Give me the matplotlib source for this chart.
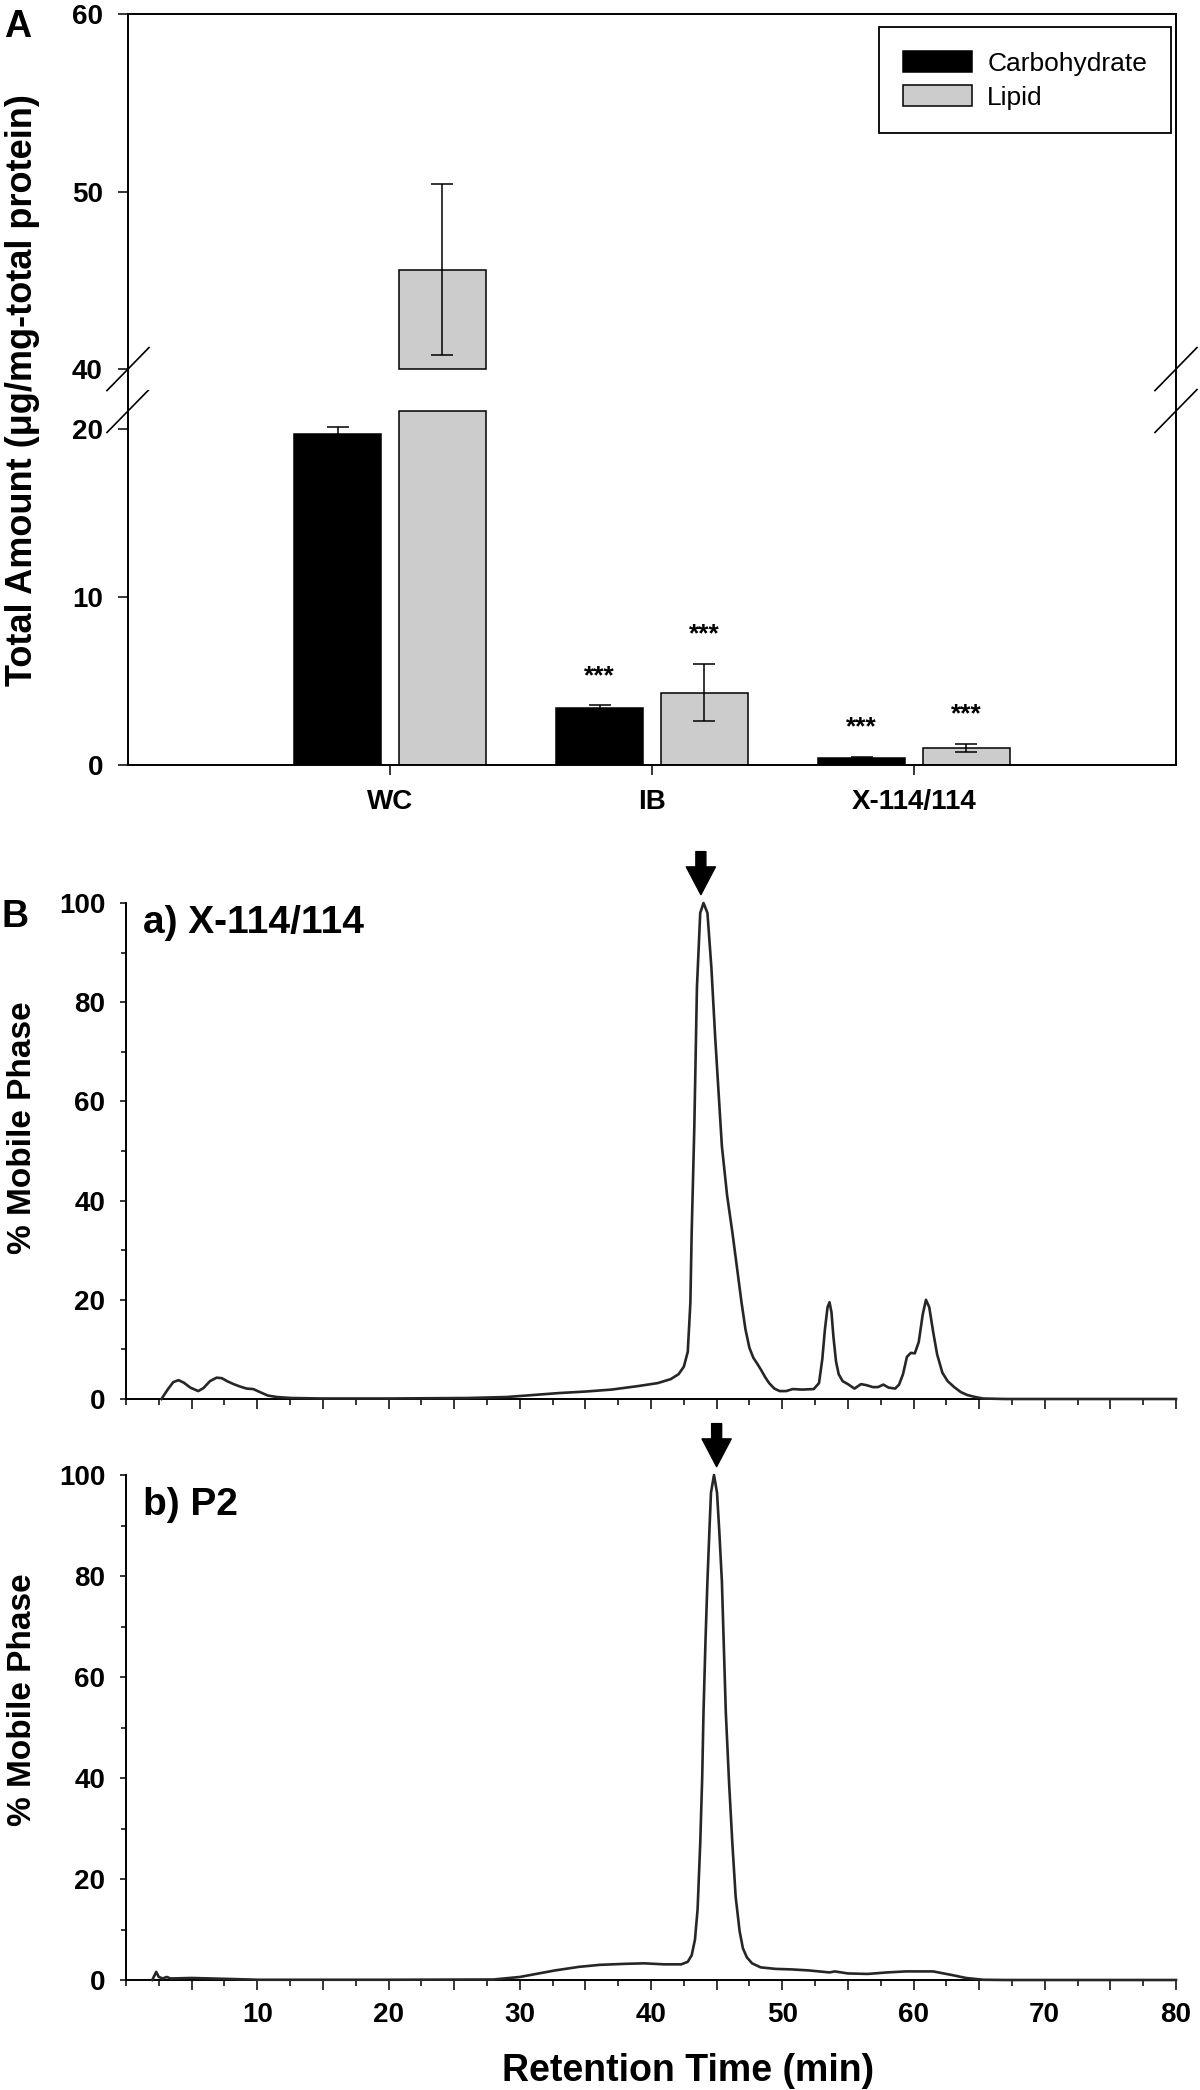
import matplotlib.pyplot as plt
from matplotlib.ticker import FixedLocator, MultipleLocator, FuncFormatter
import numpy as np

plt.rcParams['font.family'] = ['Liberation Sans', 'DejaVu Sans']
plt.rcParams['font.weight'] = 'bold'
plt.rcParams['axes.labelweight'] = 'bold'

# ---- Panel A: total amount (ug/mg-total protein) ----
groups = ['WC', 'IB', 'X-114/114']
carb_mean = [19.7, 3.4, 0.42]
carb_err = [0.4, 0.15, 0.05]
lipid_mean = [45.6, 4.3, 1.0]
lipid_err = [4.8, 1.7, 0.25]
carb_sig = ['', '***', '***']
lipid_sig = ['', '***', '***']

# ---- Panel B: chromatograms, retention time (min) vs % mobile phase ----
x114_time = [2.7, 3.2, 3.6, 4.0, 4.4, 4.9, 5.5, 5.9, 6.4, 6.9, 7.3, 7.7, 8.2, 8.7,
             9.2, 9.7, 10.2, 10.8, 11.5, 12.6, 15.0, 20.0, 26.0, 29.0, 31.0, 33.0,
             35.0, 37.0, 39.0, 40.5, 41.5, 42.1, 42.5, 42.8, 43.0, 43.1, 43.3, 43.5,
             43.75, 44.0, 44.3, 44.6, 44.9, 45.4, 45.8, 46.2, 46.6, 46.9, 47.2, 47.5,
             47.8, 48.1, 48.4, 48.7, 49.0, 49.4, 49.8, 50.3, 50.8, 51.5, 52.4, 52.8,
             53.05, 53.25, 53.45, 53.6, 53.75, 53.9, 54.1, 54.3, 54.6, 55.0, 55.5,
             56.0, 56.4, 56.9, 57.3, 57.7, 58.1, 58.6, 58.9, 59.2, 59.5, 59.8, 60.1,
             60.4, 60.7, 60.95, 61.2, 61.5, 61.8, 62.2, 62.6, 63.1, 63.6, 64.1, 64.7,
             65.3, 67.0, 80.0]
x114_signal = [0.0, 2.0, 3.4, 3.8, 3.3, 2.3, 1.6, 2.2, 3.6, 4.3, 4.2, 3.6, 3.0, 2.5,
               2.1, 2.0, 1.4, 0.7, 0.4, 0.2, 0.1, 0.1, 0.2, 0.4, 0.8, 1.2,
               1.5, 1.9, 2.6, 3.2, 4.0, 5.0, 6.5, 9.5, 19.4, 33.6, 54.8, 83.0,
               98.0, 100.0, 98.0, 87.0, 72.5, 51.0, 41.0, 33.6, 25.5, 19.4, 14.0, 10.3,
               8.3, 7.1, 5.8, 4.4, 3.2, 2.1, 1.6, 1.6, 2.0, 1.9, 2.0, 3.2,
               8.0, 14.0, 18.5, 19.5, 17.5, 12.5, 7.5, 5.0, 3.6, 3.0, 2.1,
               3.0, 2.8, 2.4, 2.4, 2.9, 2.3, 2.1, 2.9, 5.0, 8.5, 9.3, 9.2,
               11.5, 17.0, 20.0, 18.5, 13.5, 9.0, 5.3, 3.6, 2.4, 1.4, 0.8, 0.4,
               0.1, 0.0, 0.0]

p2_time = [2.0, 2.3, 2.5, 2.8, 3.1, 3.4, 5.0, 8.0, 10.0, 20.0, 28.0, 30.0, 32.7,
           34.5, 36.1, 38.0, 39.5, 41.0, 42.3, 42.8, 43.1, 43.35, 43.55, 43.75,
           43.9, 44.0, 44.15, 44.3, 44.45, 44.57, 44.8, 45.03, 45.2, 45.4, 45.55,
           45.7, 45.95, 46.2, 46.45, 46.75, 47.0, 47.3, 47.7, 48.36, 49.5, 50.7,
           52.0, 53.6, 54.0, 55.0, 56.5, 58.0, 59.4, 61.5, 62.9, 64.0, 65.3, 67.0, 80.0]
p2_signal = [0.0, 1.6, 0.6, 0.3, 0.6, 0.3, 0.4, 0.2, 0.05, 0.05, 0.1, 0.6, 1.9,
             2.6, 3.0, 3.2, 3.3, 3.1, 3.1, 3.6, 4.9, 8.0, 14.0, 27.0,
             40.0, 53.0, 67.0, 79.0, 89.0, 96.5, 100.0, 96.5, 89.0, 79.0, 66.0,
             53.0, 39.0, 27.0, 16.5, 9.7, 6.3, 4.5, 3.3, 2.5, 2.2, 2.1,
             1.9, 1.5, 1.7, 1.3, 1.2, 1.5, 1.7, 1.7, 1.0, 0.4, 0.05, 0.0, 0.0]

arrow_times = [43.8, 45.0]
time_labels = [10, 20, 30, 40, 50, 60, 70, 80]
phase_labels = [0, 20, 40, 60, 80, 100]

W, H = 1200, 2090
fig = plt.figure(figsize=(W / 100, H / 100), dpi=100)


def fig_rect(left, top, right, bottom):
    return [left / W, 1 - bottom / H, (right - left) / W, (bottom - top) / H]


# ---------------- Panel A (broken y axis) ----------------
lo_top, brk_lo = 22.32, 21.07
up_bot, brk_hi = 38.82, 40.0

ax_lo = fig.add_axes(fig_rect(128, 390, 1176, 765))
ax_up = fig.add_axes(fig_rect(128, 14, 1176, 390))

x = np.arange(len(groups))
off, bw = 0.2, 0.33
carb_lo = np.minimum(carb_mean, brk_lo)
lipid_lo = np.minimum(lipid_mean, brk_lo)
bar_kw = dict(width=bw, edgecolor='black', linewidth=1.1, zorder=2)
carb_bars = ax_lo.bar(x - off, carb_lo, color='black', **bar_kw)
lipid_bars = ax_lo.bar(x + off, lipid_lo, color='#cccccc', **bar_kw)

err_kw = dict(fmt='none', ecolor='black', elinewidth=1.1, capsize=8, capthick=1.1, zorder=3)
for i in range(len(groups)):
    for xpos, m, e, s, c in [(x[i] - off, carb_mean[i], carb_err[i], carb_sig[i], 'black'),
                             (x[i] + off, lipid_mean[i], lipid_err[i], lipid_sig[i], '#cccccc')]:
        if m < brk_lo:
            ax_lo.errorbar(xpos, m, yerr=e, **err_kw)
            if s:
                ax_lo.text(xpos, m + e + 1.75, s, ha='center', va='center', fontsize=19)
        else:
            ax_up.bar(xpos, m - brk_hi, bottom=brk_hi, color=c, **bar_kw)
            ax_up.errorbar(xpos, m, yerr=e, **err_kw)

ax_lo.set_xlim(-1, 3)
ax_up.set_xlim(-1, 3)
ax_lo.set_ylim(0, lo_top)
ax_up.set_ylim(up_bot, 60)
ax_lo.yaxis.set_major_locator(FixedLocator([0, 10, 20]))
ax_up.yaxis.set_major_locator(FixedLocator([40, 50, 60]))
ax_lo.set_xticks(x)
ax_lo.set_xticklabels(groups)
ax_up.set_xticks([])
ax_lo.spines['top'].set_visible(False)
ax_up.spines['bottom'].set_visible(False)
for a in (ax_lo, ax_up):
    for sp in a.spines.values():
        sp.set_linewidth(1.4)
    a.tick_params(axis='y', direction='out', length=7, width=1.1, labelsize=20, pad=11)
    a.tick_params(axis='x', direction='out', length=7, width=1.1, labelsize=20, pad=10)

# break marks on both spines
dx, dy = 21 / 1048, 21.5 / 376
for a, yb in ((ax_up, (brk_hi - up_bot) / (60 - up_bot)), (ax_lo, brk_lo / lo_top)):
    for xs in (0, 1):
        a.plot([xs - dx, xs + dx], [yb - dy, yb + dy], transform=a.transAxes,
               color='black', lw=1.2, clip_on=False)

leg = ax_up.legend([carb_bars, lipid_bars], ['Carbohydrate', 'Lipid'], loc='upper right',
                   bbox_to_anchor=(0.9952, 0.9654), borderaxespad=0, fancybox=False,
                   edgecolor='black', framealpha=1, prop=dict(size=19, weight='normal'),
                   handlelength=2.6, handleheight=0.87, handletextpad=0.6,
                   labelspacing=0.35, borderpad=0.9)
leg.get_frame().set_linewidth(1.3)

fig.text(23 / W, 1 - 390 / H, 'Total Amount (\u03bcg/mg-total protein)', rotation=90,
         ha='center', va='center', fontsize=26)
fig.text(4 / W, 1 - 37 / H, 'A', fontsize=27, va='baseline', ha='left')

# ---------------- Panel B (chromatograms) ----------------
ax_a = fig.add_axes(fig_rect(126, 903, 1176, 1399))
ax_b = fig.add_axes(fig_rect(126, 1475, 1176, 1980))

traces = [(ax_a, x114_time, x114_signal, 'a) X-114/114', 933, arrow_times[0]),
          (ax_b, p2_time, p2_signal, 'b) P2', 1515, arrow_times[1])]
for a, t, s, title, title_y, at in traces:
    a.plot(t, s, color='#262626', lw=1.9, clip_on=False, zorder=3)
    a.set_xlim(0, 80)
    a.set_ylim(0, 100)
    a.spines['top'].set_visible(False)
    a.spines['right'].set_visible(False)
    a.spines['left'].set_linewidth(1.4)
    a.spines['bottom'].set_linewidth(1.4)
    a.yaxis.set_major_locator(FixedLocator(phase_labels))
    a.yaxis.set_minor_locator(FixedLocator([10, 30, 50, 70, 90]))
    a.xaxis.set_major_locator(FixedLocator(np.arange(5, 81, 5)))
    a.xaxis.set_minor_locator(MultipleLocator(2.5))
    a.xaxis.set_major_formatter(FuncFormatter(
        lambda v, p: f'{int(v)}' if int(round(v)) in time_labels else ''))
    a.tick_params(axis='y', which='major', direction='out', length=4, width=1.1,
                  labelsize=20, pad=11)
    a.tick_params(axis='y', which='minor', direction='out', length=3.5, width=1.1)
    a.tick_params(axis='x', which='major', direction='out', length=7, width=1.1,
                  labelsize=20, pad=9)
    a.tick_params(axis='x', which='minor', direction='out', length=4.5, width=1.1)
    a.set_ylabel('% Mobile Phase', fontsize=24)
    a.yaxis.label.set_va('center')
    fig.text(143 / W, 1 - title_y / H, title, fontsize=28, va='baseline', ha='left')
    a.annotate('', xy=(at, 100), xytext=(0, 37), textcoords='offset points',
               xycoords='data', annotation_clip=False,
               arrowprops=dict(arrowstyle='simple,head_length=1.0,head_width=1.05,tail_width=0.36',
                               mutation_scale=20, color='black', shrinkA=0, shrinkB=6))

ax_a.yaxis.set_label_coords(-0.099, 0.546)
ax_b.yaxis.set_label_coords(-0.099, 0.556)
ax_a.tick_params(axis='x', which='both', labelbottom=False)
ax_b.set_xlabel('Retention Time (min)', fontsize=27)
ax_b.xaxis.set_label_coords(0.535, -0.2)
ax_b.xaxis.label.set_va('baseline')
fig.text(1 / W, 1 - 927 / H, 'B', fontsize=27, va='baseline', ha='left')

fig.savefig('out.png', dpi=100)
